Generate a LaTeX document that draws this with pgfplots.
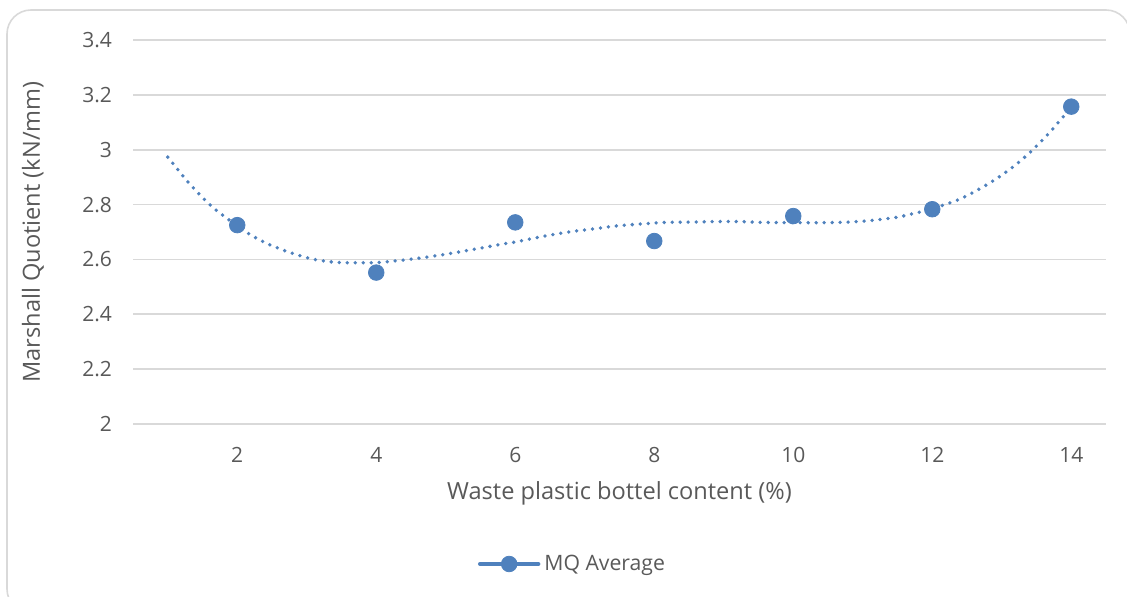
\documentclass[border=0pt]{standalone}
\usepackage{pgfplots}
\pgfplotsset{compat=1.18}
\usepackage{fontspec}
\setmainfont{Open Sans}

\definecolor{mqblue}{RGB}{79,129,189}
\definecolor{gridgray}{RGB}{217,217,217}
\definecolor{txtgray}{RGB}{89,89,89}

% MQ average per waste plastic bottle content
\pgfplotstableread{
x    mq
2    2.725
4    2.552
6    2.735
8    2.667
10   2.758
12   2.783
14   3.157
}\mqdata

% polynomial trend line (with one-step backward forecast)
\pgfplotstableread{
x      t
1.00   2.973
1.30   2.880
1.55   2.813
1.73   2.773
2.12   2.701
2.42   2.659
2.75   2.626
3.09   2.601
3.44   2.589
3.80   2.588
4.04   2.589
4.40   2.598
4.74   2.609
5.10   2.623
5.45   2.639
5.80   2.655
6.03   2.665
6.38   2.683
6.74   2.699
7.09   2.710
7.45   2.722
7.80   2.729
8.16   2.735
8.52   2.736
8.86   2.738
9.22   2.738
9.57   2.735
10.05  2.734
10.41  2.734
10.77  2.736
11.12  2.742
11.48  2.753
11.71  2.766
11.83  2.773
12.16  2.798
12.39  2.819
12.60  2.846
12.81  2.876
13.01  2.909
13.20  2.945
13.38  2.984
13.55  3.026
13.71  3.069
13.87  3.116
14.00  3.155
}\trenddata

\begin{document}
\begin{tikzpicture}
\useasboundingbox (0,0) rectangle (563.5pt,298.5pt);
% chart frame
\draw[gridgray, line width=0.8pt, rounded corners=12pt]
  (3.5pt,293.5pt) rectangle (565pt,-8pt);
\begin{axis}[
  at={(66.5pt,86.5pt)}, anchor=south west,
  scale only axis, width=486.5pt, height=192pt,
  xmin=0.5, xmax=14.5, ymin=2, ymax=3.4,
  xtick={2,4,6,8,10,12,14},
  ytick={2,2.2,2.4,2.6,2.8,3,3.2,3.4},
  yticklabels={2,2.2,2.4,2.6,2.8,3,3.2,3.4},
  axis line style={draw=none},
  major tick length=0pt,
  ymajorgrids,
  grid style={gridgray, line width=0.9pt},
  /pgf/number format/assume math mode=true,
  tick label style={font=\fontsize{10.5}{12}\selectfont, text=txtgray},
  yticklabel style={xshift=-7pt},
  xticklabel style={yshift=-8pt},
  xlabel={Waste plastic bottel content (\%)},
  ylabel={Marshall Quotient (kN/mm)},
  every axis x label/.style={at={(axis description cs:0.5,-0.1797)}, anchor=center,
    font=\fontsize{11.8}{14}\selectfont, text=txtgray},
  every axis y label/.style={at={(axis description cs:-0.1028,0.5)}, rotate=90, anchor=center,
    font=\fontsize{11.8}{14}\selectfont, text=txtgray},
  legend style={at={(axis description cs:0.4527,-0.3646)}, anchor=center,
    draw=none, fill=none, font=\fontsize{10.6}{12}\selectfont, text=txtgray,
    inner sep=0pt, legend cell align=left},
  clip=false,
]
\addplot[mqblue, line width=1.9pt, line cap=round, dash pattern=on 0pt off 4pt,
  smooth, tension=0.5, forget plot] table[x=x, y=t] {\trenddata};
\addplot[only marks, mark=*, mark size=3.9pt,
  mark options={fill=mqblue, draw=mqblue},
  legend image code/.code={
    \draw[mqblue, line width=2.2pt, line cap=round] (0pt,0pt) -- (29pt,0pt);
    \fill[mqblue] (14.5pt,0pt) circle (3.9pt);
  }] table[x=x, y=mq] {\mqdata};
\addlegendentry{MQ Average}
\end{axis}
\end{tikzpicture}
\end{document}
